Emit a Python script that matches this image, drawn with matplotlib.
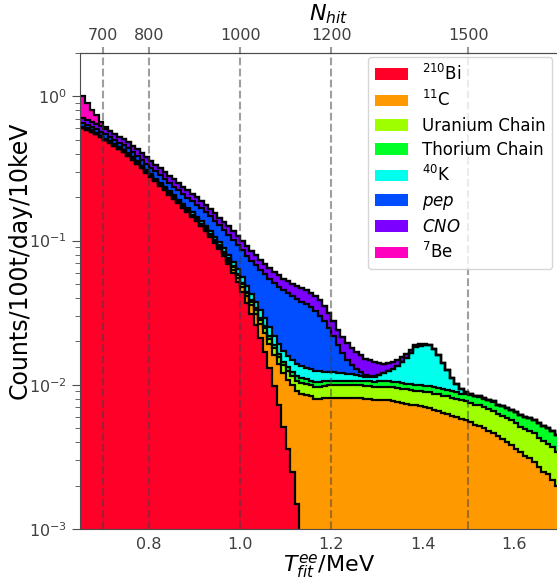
import numpy as np
import matplotlib
matplotlib.use("Agg")
import matplotlib.pyplot as plt

# 10 keV bins from 0.65 to 1.70 MeV
bin_lo = 0.65
bin_w = 0.01
n_bins = 105

# counts/100t/day/10keV per bin
bi210 = [0.600, 0.585, 0.565, 0.545, 0.520, 0.495, 0.475, 0.452, 0.430, 0.410,
         0.388, 0.365, 0.342, 0.318, 0.295, 0.275, 0.257, 0.240, 0.224, 0.208,
         0.194, 0.181, 0.169, 0.157, 0.146, 0.136, 0.126, 0.116, 0.106, 0.096,
         0.087, 0.078, 0.069, 0.060, 0.052, 0.044, 0.037, 0.031, 0.026, 0.021,
         0.017, 0.013, 0.0098, 0.0072, 0.0051, 0.0036, 0.0025, 0.0015, 0.0009, 0.0006,
         0.0003] + [0.0] * 54

c11 = [0.0] * 23 + [
    0.0002, 0.0004, 0.0006, 0.0008, 0.0010, 0.0013, 0.0016, 0.0019, 0.0022, 0.0026,
    0.0030, 0.0034, 0.0038, 0.0042, 0.0046, 0.0050, 0.0054, 0.0058, 0.0061, 0.0064,
    0.0067, 0.0070, 0.0072, 0.0074, 0.0076, 0.0078, 0.0079, 0.0080, 0.0080, 0.0080,
    0.0081, 0.0081, 0.0081, 0.0081, 0.0081, 0.0081, 0.0081, 0.0081, 0.0081, 0.0080,
    0.0080, 0.0079, 0.0079, 0.0078, 0.0078, 0.0077, 0.0076, 0.0075, 0.0074, 0.0073,
    0.0072, 0.0071, 0.0070, 0.0069, 0.0067, 0.0066, 0.0064, 0.0063, 0.0061, 0.0060,
    0.0058, 0.0057, 0.0055, 0.0053, 0.0052, 0.0050, 0.0048, 0.0046, 0.0044, 0.0042,
    0.0040, 0.0038, 0.0036, 0.0034, 0.0032, 0.0031, 0.0029, 0.0027, 0.0025, 0.0024,
    0.0022, 0.0020]

u_chain = [0.0050, 0.0050, 0.0049, 0.0048, 0.0048, 0.0047, 0.0046, 0.0046, 0.0045, 0.0044,
           0.0044, 0.0043, 0.0042, 0.0042, 0.0041, 0.0040, 0.0039, 0.0038, 0.0037, 0.0036,
           0.0035, 0.0034, 0.0033, 0.0032, 0.0031, 0.0030, 0.0029, 0.0028, 0.0027, 0.0026,
           0.0025, 0.0024, 0.0023, 0.0022, 0.0022, 0.0021, 0.0020, 0.0019, 0.0019, 0.0018,
           0.0018, 0.0017, 0.0017, 0.0016, 0.0016, 0.0016, 0.0016, 0.0016, 0.0016, 0.0016,
           0.0016, 0.0017, 0.0017, 0.0017, 0.0018, 0.0018, 0.0018, 0.0018, 0.0018, 0.0018,
           0.0018, 0.0018, 0.0018, 0.0018, 0.0018, 0.0018, 0.0019, 0.0019, 0.0019, 0.0019,
           0.0019, 0.0019, 0.0019, 0.0019, 0.0019, 0.0019, 0.0020, 0.0020, 0.0020, 0.0020,
           0.0020, 0.0020, 0.0020, 0.0020, 0.0020, 0.0020, 0.0020, 0.0020, 0.0020, 0.0020,
           0.0020, 0.0019, 0.0019, 0.0019, 0.0019, 0.0018, 0.0017, 0.0017, 0.0017, 0.0017,
           0.0016, 0.0016, 0.0015, 0.0015, 0.0014]

th_chain = [0.0030, 0.0030, 0.0029, 0.0029, 0.0028, 0.0028, 0.0027, 0.0027, 0.0026, 0.0026,
            0.0025, 0.0025, 0.0024, 0.0024, 0.0023, 0.0023, 0.0022, 0.0022, 0.0021, 0.0021,
            0.0020, 0.0019, 0.0019, 0.0018, 0.0018, 0.0017, 0.0016, 0.0016, 0.0015, 0.0014,
            0.0014, 0.0013, 0.0013, 0.0012, 0.0012, 0.0011, 0.0011, 0.0010, 0.0010, 0.0010,
            0.0009, 0.0009, 0.0009, 0.0009, 0.0008, 0.0008] + [0.0008] * 19 + \
           [0.0009] * 20 + [0.0010] * 10 + [0.0011] * 10

k40 = [0.0080, 0.0079, 0.0078, 0.0077, 0.0076, 0.0075, 0.0074, 0.0073, 0.0072, 0.0071,
       0.0070, 0.0069, 0.0068, 0.0067, 0.0066, 0.0065, 0.0064, 0.0063, 0.0062, 0.0061,
       0.0060, 0.0059, 0.0058, 0.0057, 0.0056, 0.0055, 0.0054, 0.0053, 0.0052, 0.0051,
       0.0050, 0.0049, 0.0048, 0.0047, 0.0046, 0.0045, 0.0043, 0.0041, 0.0039, 0.0037,
       0.0035, 0.0033, 0.0031, 0.0029, 0.0027, 0.0026, 0.0025, 0.0024, 0.0023, 0.0022,
       0.0021, 0.0020, 0.0019, 0.0017, 0.0016, 0.0015, 0.0014, 0.0013, 0.0012, 0.0011,
       0.0010, 0.0009, 0.0008, 0.0008, 0.0009, 0.0011, 0.0014, 0.0018, 0.0024, 0.0032,
       0.0041, 0.0052, 0.0064, 0.0082, 0.0088, 0.0092, 0.0090, 0.0080, 0.0066, 0.0049,
       0.0034, 0.0022, 0.0012, 0.0006, 0.0003, 0.0001, 0.0001, 0.0001, 0.0001, 0.0001,
       0.0001] + [0.0] * 14

pep = [0.0350, 0.0350, 0.0350, 0.0348, 0.0346, 0.0344, 0.0342, 0.0340, 0.0338, 0.0336,
       0.0334, 0.0332, 0.0330, 0.0328, 0.0326, 0.0324, 0.0322, 0.0320, 0.0318, 0.0316,
       0.0314, 0.0312, 0.0310, 0.0310, 0.0310, 0.0310, 0.0308, 0.0306, 0.0305, 0.0304,
       0.0303, 0.0302, 0.0301, 0.0300, 0.0300, 0.0300, 0.0300, 0.0300, 0.0300, 0.0300,
       0.0298, 0.0296, 0.0292, 0.0287, 0.0281, 0.0274, 0.0265, 0.0255, 0.0244, 0.0232,
       0.0218, 0.0200, 0.0178, 0.0152, 0.0124, 0.0095, 0.0068, 0.0046, 0.0030, 0.0019,
       0.0011, 0.0006, 0.0003, 0.0002, 0.0001] + [0.0] * 40

cno = [0.0550, 0.0540, 0.0530, 0.0525, 0.0520, 0.0510, 0.0500, 0.0485, 0.0470, 0.0455,
       0.0440, 0.0425, 0.0410, 0.0395, 0.0380, 0.0365, 0.0350, 0.0335, 0.0320, 0.0305,
       0.0290, 0.0275, 0.0260, 0.0245, 0.0230, 0.0215, 0.0200, 0.0190, 0.0180, 0.0172,
       0.0165, 0.0158, 0.0152, 0.0146, 0.0140, 0.0134, 0.0128, 0.0122, 0.0116, 0.0110,
       0.0105, 0.0100, 0.0096, 0.0093, 0.0091, 0.0090, 0.0090, 0.0090, 0.0090, 0.0090,
       0.0089, 0.0087, 0.0083, 0.0077, 0.0069, 0.0060, 0.0052, 0.0048, 0.0046, 0.0044,
       0.0041, 0.0038, 0.0035, 0.0032, 0.0028, 0.0024, 0.0020, 0.0017, 0.0015, 0.0013,
       0.0012, 0.0010, 0.0008, 0.0006, 0.0004, 0.0002, 0.0001, 0.0001] + [0.0] * 27

be7 = [0.300, 0.215, 0.140, 0.100, 0.045, 0.015, 0.006, 0.003, 0.0015, 0.001,
       0.0005] + [0.0] * 94

labels = [r'$^{210}$Bi', r'$^{11}$C', 'Uranium Chain', 'Thorium Chain',
          r'$^{40}$K', r'$pep$', r'$CNO$', r'$^{7}$Be']
nhit_ticks = [700, 800, 1000, 1200, 1500]

comps = np.vstack([bi210, c11, u_chain, th_chain, k40, pep, cno, be7])
cum = np.cumsum(comps, axis=0)
edges = bin_lo + bin_w * np.arange(n_bins + 1)
colors = plt.cm.gist_rainbow(np.linspace(0, 1, len(labels)))

fig = plt.figure(figsize=(5.57, 5.83), dpi=100)
# axes runs a bit past the right edge of the picture, as in the original crop
ax = fig.add_axes([0.1445, 0.0926, 0.8925, 0.8165])

for k in range(len(labels)):
    base = cum[k - 1] if k > 0 else 1e-6
    ax.stairs(cum[k], edges, baseline=base, fill=True, color=colors[k],
              lw=0, label=labels[k])
for k in range(len(labels)):
    ax.stairs(cum[k], edges, baseline=None, color='k', lw=1.6)

for n in nhit_ticks:
    ax.axvline(n / 1000., color='0.25', ls='--', lw=1.5, alpha=0.5, zorder=5)

ax.set_yscale('log')
ax.set_xlim(0.65, 1.74)
ax.set_ylim(1e-3, 2.0)
ax.set_xticks([0.8, 1.0, 1.2, 1.4, 1.6])
ax.set_xticklabels(['0.8', '1.0', '1.2', '1.4', '1.6'])
ax.set_xlabel(r'$T_{fit}^{ee}$/MeV', fontsize=16, labelpad=0)
ax.set_ylabel('Counts/100t/day/10keV', fontsize=17)
ax.yaxis.set_label_coords(-0.098, 0.565)
ax.tick_params(axis='both', which='both', colors='0.3', labelcolor='0.25', labelsize=11.5)
ax.tick_params(axis='y', which='major', length=6)
ax.tick_params(axis='y', which='minor', length=3.5)
ax.tick_params(axis='x', length=0, pad=6)
for s in ax.spines.values():
    s.set_color('0.3')

sec = ax.secondary_xaxis('top', functions=(lambda x: x * 1000., lambda n: n / 1000.))
sec.set_xticks(nhit_ticks)
sec.set_xticklabels([str(n) for n in nhit_ticks])
sec.tick_params(colors='0.6', labelcolor='0.25', labelsize=11.5, length=4, width=1.5)
sec.set_xlabel(r'$N_{hit}$', fontsize=16, labelpad=5)
sec.spines['top'].set_color('0.3')

ax.legend(loc='upper right', fontsize=12, labelspacing=0.38, borderaxespad=0,
          bbox_to_anchor=(552 / 557., 1 - 57 / 583.), bbox_transform=fig.transFigure)

fig.savefig('out.png', dpi=100)
